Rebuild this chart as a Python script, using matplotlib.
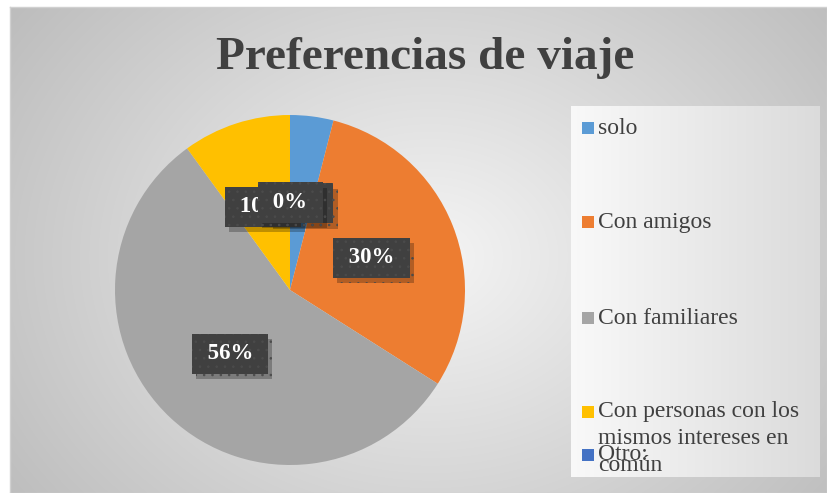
import numpy as np
import matplotlib.pyplot as plt
from matplotlib import patheffects as pe
from matplotlib.patches import Rectangle

W, H = 827, 493

## data
categories = ['solo', 'Con amigos', 'Con familiares',
              'Con personas con los\nmismos intereses en\ncomún', 'Otro:']
values = [4, 30, 56, 10, 0]
colors = ['#5B9BD5', '#ED7D31', '#A5A5A5', '#FFC000', '#4472C4']

plt.rcParams['font.family'] = ['Liberation Serif', 'DejaVu Serif']
plt.rcParams['hatch.linewidth'] = 0.6

def fx(x):
    return x / W

def fy(y):
    return 1 - y / H

fig = plt.figure(figsize=(W / 100, H / 100), dpi=100)
fig.patch.set_facecolor('white')

## background of the chart area (radial gradient)
bg = fig.add_axes([fx(10), 0, 1 - fx(10), 1 - 7 / H])
yy, xx = np.mgrid[0:486, 0:817]
d = np.sqrt(((xx - 420) / 520.0) ** 2 + ((yy - 250) / 420.0) ** 2)
g = np.clip(0.96 - 0.22 * d, 0.74, 0.97)
bg.imshow(np.dstack([g, g, g]), aspect='auto', interpolation='bilinear')
bg.set_xticks([])
bg.set_yticks([])
for s in bg.spines.values():
    s.set_color('#d0d0d0')
    s.set_linewidth(1)

## legend panel (horizontal gradient)
lg = fig.add_axes([fx(571), fy(477), fx(820) - fx(571), (477 - 106) / H])
gx = np.linspace(0.975, 0.86, 250)[None, :].repeat(10, axis=0)
lg.imshow(np.dstack([gx, gx, gx]), aspect='auto', interpolation='bilinear')
lg.axis('off')

## title
fig.text(fx(425), fy(58), 'Preferencias de viaje', ha='center', va='center',
         fontsize=34, fontweight='bold', color='#404040')

## pie
ax = fig.add_axes([fx(290 - 175), fy(290 + 175), 350 / W, 350 / H])
wedges, texts, autotexts = ax.pie(values, colors=colors, startangle=90,
                                  counterclock=False, autopct=lambda p: ' %d%% ' % round(p),
                                  pctdistance=0.5,
                                  wedgeprops=dict(linewidth=0))
ax.set_xlim(-1, 1)
ax.set_ylim(-1, 1)
ax.set_aspect('equal')
for i, t in enumerate(autotexts):
    t.set_color('white')
    t.set_fontsize(16.5)
    t.set_fontweight('bold')
    t.set_zorder(10 + i)
    t.set_bbox(dict(boxstyle='square,pad=0.42', facecolor='#404040',
                    edgecolor='#4b4b4b', linewidth=0, hatch='..'))
    t.get_bbox_patch().set_path_effects([
        pe.SimplePatchShadow(offset=(3, -4), shadow_rgbFace='black', alpha=0.25),
        pe.Normal()])

## legend entries
leg_y = [128, 222, 318, 412, 455]
for lab, c, y in zip(categories, colors, leg_y):
    fig.patches.append(Rectangle((fx(582), fy(y + 6)), 12 / W, 12 / H,
                                 transform=fig.transFigure, facecolor=c,
                                 edgecolor='none', zorder=5))
    if '\n' in lab:
        fig.text(fx(598), fy(y - 11), lab, ha='left', va='top', fontsize=17,
                 color='#404040', linespacing=1.38, zorder=6)
    else:
        fig.text(fx(598), fy(y), lab, ha='left', va='center', fontsize=17,
                 color='#404040', zorder=6)

plt.savefig('out.png', dpi=100)
